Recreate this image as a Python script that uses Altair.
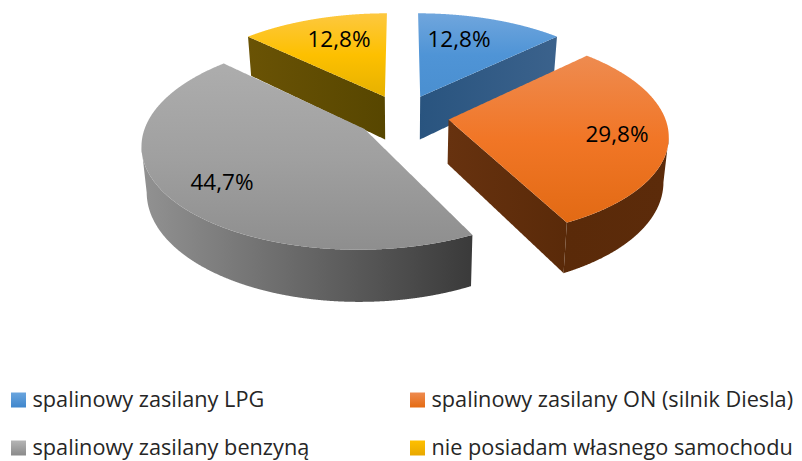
import math
import altair as alt
import pandas as pd

# --- chart values -----------------------------------------------------------
categories = ["spalinowy zasilany LPG", "spalinowy zasilany ON (silnik Diesla)",
              "spalinowy zasilany benzyną", "nie posiadam własnego samochodu"]
shares = [12.8, 29.8, 44.7, 12.8]
value_labels = ["12,8%", "29,8%", "44,7%", "12,8%"]

# --- look -------------------------------------------------------------------
W, H = 786, 453
CX, CY, A, B, K, EXPLODE, DEPTH, SHRINK = 394.5, 108.0, 216.0, 100.0, 0.139, 0.215, 44.0, 0.98
face_stops = [
    ["#70a6dd", "#4f94d6", "#4a8fd0"],
    ["#ee8b50", "#f17626", "#e26a14"],
    ["#adadad", "#a0a0a0", "#8e8e8e"],
    ["#fdc840", "#fdc000", "#e6b100"],
]
cut_stops = [
    ["#29547f", "#3b628c"],
    ["#67320f", "#5a2a09"],
    ["#555555", "#555555"],
    ["#6a5305", "#574600"],
]
rim_stops = {1: ["#5a2a09", "#5c2b0a"], 2: ["#929292", "#3a3a3a"]}
legend_stops = [["#6aa5de", "#3f86cc"], ["#ee8b50", "#e56b12"],
                ["#b5b5b5", "#8a8a8a"], ["#ffc000", "#e8a800"]]
label_xy = [(451, 32), (609, 127), (214, 175), (331, 32)]
legend_xy = [(10.5, 392), (409.5, 392), (10.5, 440), (409.5, 440)]
x_scale = alt.Scale(domain=[0, W], range=[0, W], nice=False, zero=False)
y_scale = alt.Scale(domain=[0, H], range=[0, H], nice=False, zero=False)


def grad(stops, vertical=True):
    n = len(stops) - 1
    return alt.Gradient(
        gradient="linear", x1=0, y1=0, x2=0 if vertical else 1, y2=1 if vertical else 0,
        stops=[alt.GradientStop(color=c, offset=i / n) for i, c in enumerate(stops)],
    )


def project(xp, yp):
    w = 1.0 / (1.0 + K * yp)
    return CX + A * xp * w, CY - B * yp * w, w


def lower(p):
    """The same rim point on the underside of the disc, seen from above."""
    return CX + (p[0] - CX) * SHRINK, p[1] + DEPTH * p[2]


def area_layer(rows, fill):
    df = pd.DataFrame(rows, columns=["x", "y", "y2"])
    return alt.Chart(df).mark_area(color=fill, interpolate="linear", clip=False).encode(
        x=alt.X("x:Q", scale=x_scale, axis=None),
        y=alt.Y("y:Q", scale=y_scale, axis=None),
        y2="y2:Q",
    )


def envelope(poly):
    lo, hi = min(p[0] for p in poly), max(p[0] for p in poly)
    xs = sorted({p[0] for p in poly} | {lo + i * 0.5 for i in range(int((hi - lo) * 2))})
    rows = []
    n = len(poly)
    for x in xs:
        hits = []
        for i in range(n):
            (x0, y0), (x1, y1) = poly[i], poly[(i + 1) % n]
            if min(x0, x1) <= x <= max(x0, x1):
                if x0 == x1:
                    hits += [y0, y1]
                else:
                    hits.append(y0 + (y1 - y0) * (x - x0) / (x1 - x0))
        if hits:
            rows.append((x, min(hits), max(hits)))
    return rows


total = sum(shares)
bounds = []
acc = 0.0
for s in shares:
    bounds.append((acc / total * 2 * math.pi, (acc + s) / total * 2 * math.pi))
    acc += s

faces, walls, cuts = {}, {}, {}
for i, (t0, t1) in enumerate(bounds):
    mid = (t0 + t1) / 2
    ox, oy = EXPLODE * math.sin(mid), EXPLODE * math.cos(mid)
    steps = 120
    ang = [t0 + (t1 - t0) * j / steps for j in range(steps + 1)]
    rim = [project(ox + math.sin(a), oy + math.cos(a)) for a in ang]
    apex = project(ox, oy)
    faces[i] = envelope([(apex[0], apex[1])] + [(p[0], p[1]) for p in rim])
    # cut face that looks at the viewer
    if i in (0, 1):
        edge = rim[-1]
    elif i == 3:
        edge = rim[0]
    else:
        edge = None
    if edge:
        cuts[i] = envelope([apex[:2], edge[:2], lower(edge), lower(apex)])
    # outer rim, only the part in front of the silhouette
    part = None
    if i == 1:
        k = max(range(len(rim)), key=lambda j: rim[j][0])
        part = rim[k:]
    if i == 2:
        k = min(range(len(rim)), key=lambda j: rim[j][0])
        part = rim[:k + 1]
    if part:
        walls[i] = envelope([p[:2] for p in part] + [lower(p) for p in reversed(part)])

layers = []
for i in (3, 0, 2, 1):
    if i in cuts:
        layers.append(area_layer(cuts[i], grad(cut_stops[i], False)))
    if i in walls:
        layers.append(area_layer(walls[i], grad(rim_stops[i], False)))
    layers.append(area_layer(faces[i], grad(face_stops[i], True)))

labels_df = pd.DataFrame({"x": [p[0] for p in label_xy], "y": [p[1] for p in label_xy], "t": value_labels})
layers.append(
    alt.Chart(labels_df).mark_text(font="Open Sans", fontSize=22.5, color="#000000", align="center",
                                   baseline="middle").encode(
        x=alt.X("x:Q", scale=x_scale, axis=None), y=alt.Y("y:Q", scale=y_scale, axis=None), text="t:N")
)

for i, name in enumerate(categories):
    lx, ly = legend_xy[i]
    one = pd.DataFrame({"x": [lx], "y": [ly], "tx": [lx + 14], "t": [name]})
    layers.append(
        alt.Chart(one).mark_square(size=225, color=grad(legend_stops[i], True), opacity=1).encode(
            x=alt.X("x:Q", scale=x_scale, axis=None), y=alt.Y("y:Q", scale=y_scale, axis=None))
    )
    layers.append(
        alt.Chart(one).mark_text(font="Open Sans", fontSize=21.7, color="#262626", align="left",
                                 baseline="middle").encode(
            x=alt.X("tx:Q", scale=x_scale, axis=None), y=alt.Y("y:Q", scale=y_scale, axis=None), text="t:N")
    )

chart = alt.layer(*layers).properties(
    width=W, height=H, padding=0, autosize=alt.AutoSizeParams(type="none"),
).configure_view(stroke=None)

chart.save("out.html", embed_options={"renderer": "svg", "actions": False})
